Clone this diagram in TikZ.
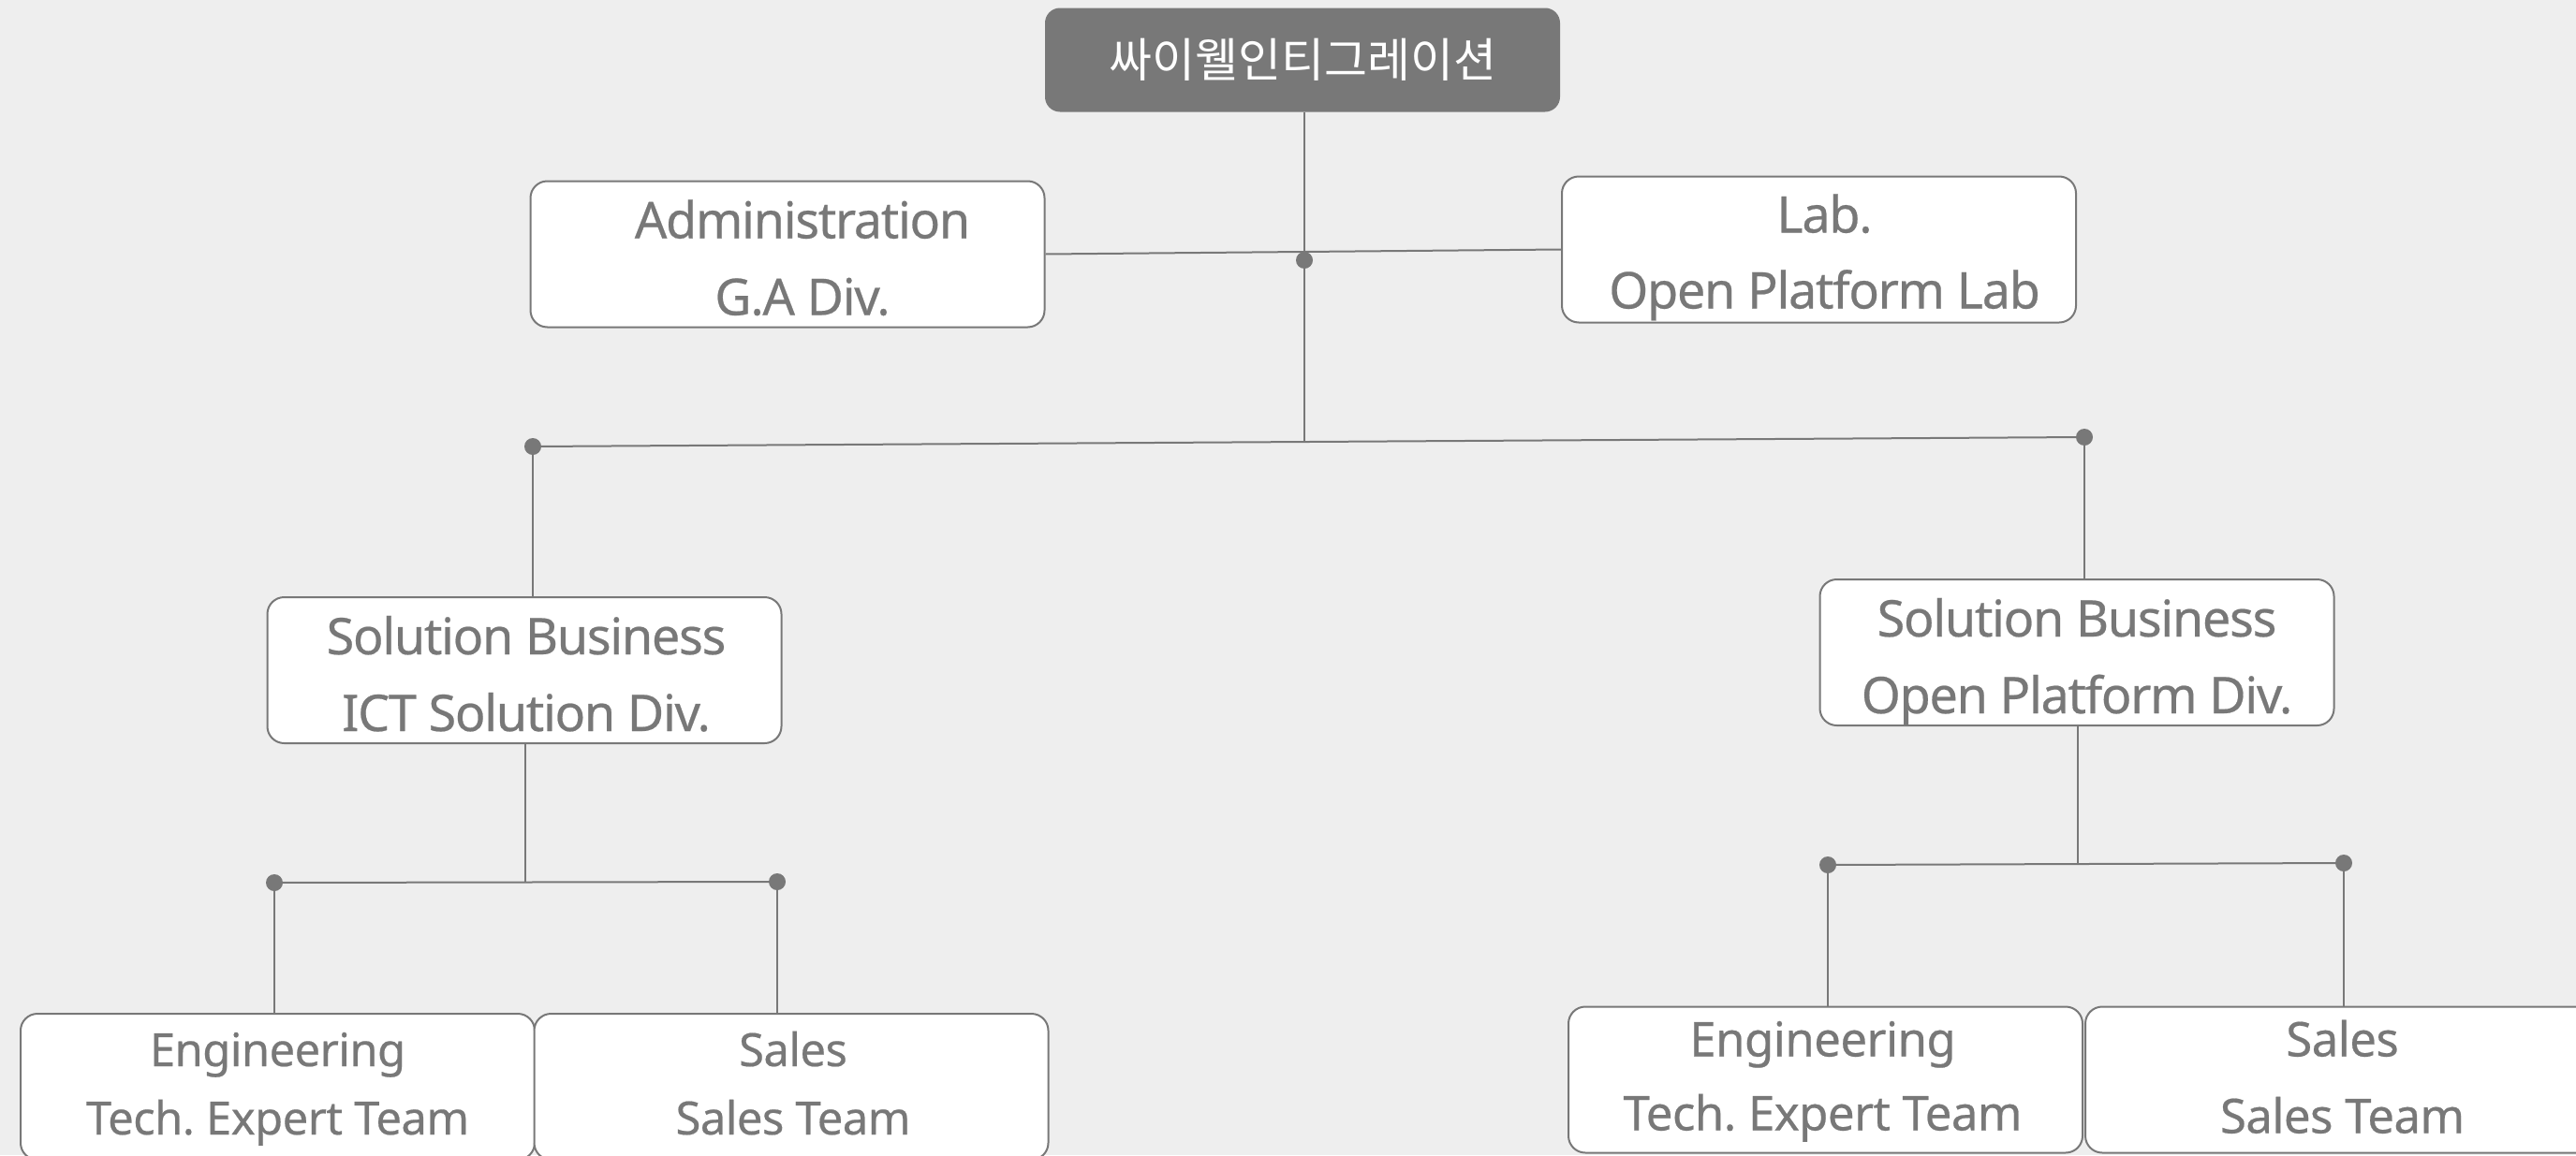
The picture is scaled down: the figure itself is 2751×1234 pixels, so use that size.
\documentclass[tikz,border=0pt]{standalone}
\usepackage{fontspec}
\usetikzlibrary{calc}
\setmainfont{Noto Sans}
\newfontfamily\tightf{Noto Sans}[LetterSpace=-2.5,FakeBold=0.4]
\newfontfamily\smallf{Noto Sans}[LetterSpace=-1.2,FakeBold=0.4]
\newfontfamily\kr{Noto Sans CJK KR}
\definecolor{bg}{HTML}{EEEEEE}
\definecolor{ink}{HTML}{787878}
\begin{document}
\begin{tikzpicture}[x=1pt,y=-1pt,
  box/.style={draw=ink,line width=2pt,fill=white,rounded corners=18pt,
    minimum width=549pt,minimum height=156pt,inner sep=0pt},
  bigt/.style={anchor=base,inner sep=0pt,text=ink,
    font=\tightf\fontsize{54}{60}\selectfont\frenchspacing},
  smlt/.style={anchor=base,inner sep=0pt,text=ink,
    font=\smallf\fontsize{49}{54}\selectfont\frenchspacing},
  midt/.style={anchor=base,inner sep=0pt,text=ink,
    font=\smallf\fontsize{51}{56}\selectfont\frenchspacing},
  topbox/.style={fill=ink,rounded corners=16pt,minimum width=550pt,minimum height=111pt,
    inner sep=0pt,text=white,font=\kr\fontsize{50}{56}\selectfont},
  wire/.style={draw=ink,line width=2pt},
  dot/.style={circle,fill=ink,inner sep=0pt,minimum size=18pt}]
\fill[bg] (0,0) rectangle (2751,1234);
\useasboundingbox (0,0) rectangle (2751,1234);
% junctions
\coordinate (j0) at (1393,278);
\coordinate (jM) at (1393,472);
\coordinate (jL) at (569,477);
\coordinate (jR) at (2226,467);
\coordinate (j1L) at (293,943);
\coordinate (j1R) at (830,942);
\coordinate (j1M) at (561,942);
\coordinate (j2L) at (1952,924);
\coordinate (j2R) at (2503,922);
\coordinate (j2M) at (2219,923);
% boxes
\node[topbox] (top) at (1391,64) {싸이웰인티그레이션};
\node[box] (adm) at (841,271.5) {};
\node[box] (lab) at (1942.5,266.5) {};
\node[box] (sb1) at (560,716) {};
\node[box] (sb2) at (2218,697) {};
\node[box] (eng1) at (296.5,1161) {};
\node[box] (sal1) at (845,1161) {};
\node[box] (eng2) at (1949.5,1153.5) {};
\node[box] (sal2) at (2501.5,1153.5) {};
% texts
\node[bigt] (adm-a) at ($(adm.north)+(16,62)$) {Administration};
\node[bigt] (adm-b) at ($(adm.north)+(16,144)$) {G.A Div.};
\node[bigt] (lab-a) at ($(lab.north)+(6,61)$) {Lab.};
\node[bigt] (lab-b) at ($(lab.north)+(6,142)$) {Open Platform Lab};
\node[bigt] (sb1-a) at ($(sb1.north)+(2,62)$) {Solution Business};
\node[bigt] (sb1-b) at ($(sb1.north)+(2,144)$) {ICT Solution Div.};
\node[bigt] (sb2-a) at ($(sb2.north)+(0,62)$) {Solution Business};
\node[bigt] (sb2-b) at ($(sb2.north)+(0,144)$) {Open Platform Div.};
\node[smlt] (eng1-a) at ($(eng1.north)+(0,57)$) {Engineering};
\node[smlt] (eng1-b) at ($(eng1.north)+(0,130)$) {Tech. Expert Team};
\node[smlt] (sal1-a) at ($(sal1.north)+(2,57)$) {Sales};
\node[smlt] (sal1-b) at ($(sal1.north)+(2,130)$) {Sales Team};
\node[midt] (eng2-a) at ($(eng2.north)+(-3,54)$) {Engineering};
\node[midt] (eng2-b) at ($(eng2.north)+(-3,133)$) {Tech. Expert Team};
\node[midt] (sal2-a) at ($(sal2.north)+(0,54)$) {Sales};
\node[midt] (sal2-b) at ($(sal2.north)+(0,136)$) {Sales Team};
% connectors
\draw[wire] (top.south -| j0) -- (jM);
\draw[wire] (adm.east) -- (lab.west);
\draw[wire] (jL) -- (jR);
\draw[wire] (jL) -- (jL |- sb1.north);
\draw[wire] (jR) -- (jR |- sb2.north);
\draw[wire] (sb1.south -| j1M) -- (j1M);
\draw[wire] (j1L) -- (j1R);
\draw[wire] (j1L) -- (j1L |- eng1.north);
\draw[wire] (j1R) -- (j1R |- sal1.north);
\draw[wire] (sb2.south -| j2M) -- (j2M);
\draw[wire] (j2L) -- (j2R);
\draw[wire] (j2L) -- (j2L |- eng2.north);
\draw[wire] (j2R) -- (j2R |- sal2.north);
% dots
\foreach \p in {j0,jL,jR,j1L,j1R,j2L,j2R} \node[dot] at (\p) {};
\end{tikzpicture}
\end{document}
